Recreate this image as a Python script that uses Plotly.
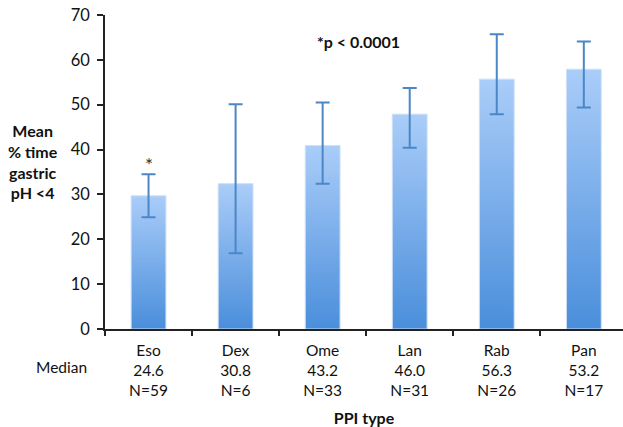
import plotly.graph_objects as go

categories = ["Eso", "Dex", "Ome", "Lan", "Rab", "Pan"]
medians = ["24.6", "30.8", "43.2", "46.0", "56.3", "53.2"]
counts = ["N=59", "N=6", "N=33", "N=31", "N=26", "N=17"]
means = [29.7, 32.4, 40.9, 47.9, 55.7, 57.9]
err_upper = [34.5, 50.1, 50.5, 53.7, 65.7, 64.1]
err_lower = [24.9, 16.9, 32.4, 40.4, 47.9, 49.4]
y_ticks = [0, 10, 20, 30, 40, 50, 60, 70]

BAR_W = 0.4
FONT = "Lato"
TXT = "#111111"

fig = go.Figure()

xs = list(range(len(categories)))

# gradient bars
for i, v in zip(xs, means):
    fig.add_trace(go.Scatter(
        x=[i - BAR_W / 2, i - BAR_W / 2, i + BAR_W / 2, i + BAR_W / 2, i - BAR_W / 2],
        y=[0, v, v, 0, 0],
        mode="lines",
        fill="toself",
        fillgradient=dict(type="vertical", start=0, stop=v,
                          colorscale=[[0, "#4a8edb"], [1, "#aacdf9"]]),
        line=dict(color="#cfe0f6", width=1),
        hoverinfo="skip",
        showlegend=False,
    ))

# error bars
fig.add_trace(go.Scatter(
    x=xs,
    y=means,
    mode="markers",
    marker=dict(size=1, color="rgba(0,0,0,0)"),
    error_y=dict(
        type="data",
        symmetric=False,
        array=[u - m for u, m in zip(err_upper, means)],
        arrayminus=[m - l for l, m in zip(err_lower, means)],
        color="#4b87c6",
        thickness=2,
        width=7,
    ),
    showlegend=False,
    hovertemplate="%{x}: %{y}<extra></extra>",
))

ticktext = [f"{c}<br>{m}<br>{n}" for c, m, n in zip(categories, medians, counts)]

fig.update_layout(
    width=623, height=427,
    margin=dict(l=105, r=0, t=15, b=98, autoexpand=False),
    plot_bgcolor="white",
    paper_bgcolor="white",
    font=dict(family=FONT, size=15, color=TXT),
    xaxis=dict(
        range=[-0.5, 5.45],
        tickmode="array",
        tickvals=xs,
        ticktext=ticktext,
        ticks="",
        showline=True,
        linecolor="#222",
        linewidth=1.8,
        showgrid=False,
        zeroline=False,
        automargin=False,
        ticklabelstandoff=6,
        tickfont=dict(size=15.5, color=TXT),
        minor=dict(tickmode="array", tickvals=[-0.5, 0.5, 1.5, 2.5, 3.5, 4.5],
                   ticks="outside", ticklen=5, tickwidth=1.5, tickcolor="#222",
                   showgrid=False),
        title=dict(text="<b>PPI type</b>", font=dict(size=16, color=TXT), standoff=19),
    ),
    yaxis=dict(
        range=[0, 70],
        tickmode="array",
        tickvals=y_ticks,
        ticks="outside",
        ticklen=6,
        tickwidth=1.5,
        tickcolor="#222",
        showline=True,
        linecolor="#222",
        linewidth=1.8,
        showgrid=False,
        zeroline=False,
        automargin=False,
        ticklabelstandoff=4,
        tickfont=dict(size=16.5, color=TXT),
    ),
    annotations=[
        dict(text="<b>Mean<br>% time<br>gastric<br>pH &lt;4</b>", xref="paper", yref="paper",
             x=-0.139, y=0.535, xanchor="center", yanchor="middle", showarrow=False,
             font=dict(size=16, color=TXT)),
        dict(text="Median", xref="paper", yref="paper", x=-0.031, y=-0.121,
             xanchor="right", yanchor="middle", showarrow=False,
             font=dict(size=15.5, color=TXT)),
        dict(text="<b>*p &lt; 0.0001</b>", xref="x", yref="y", x=2.41, y=64.0,
             xanchor="center", yanchor="middle", showarrow=False,
             font=dict(size=16, color=TXT)),
        dict(text="*", xref="x", yref="y", x=0, y=36.6,
             xanchor="center", yanchor="middle", showarrow=False,
             font=dict(size=19, color="#333")),
    ],
)

fig.write_html("out.html")
